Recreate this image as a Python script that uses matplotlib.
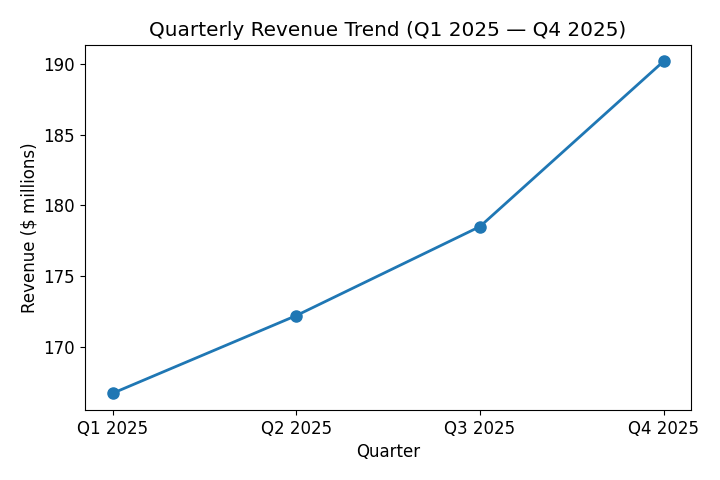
import matplotlib
matplotlib.use("Agg")
import matplotlib.pyplot as plt

quarters = ['Q1 2025', 'Q2 2025', 'Q3 2025', 'Q4 2025']
revenue = [166.7, 172.2, 178.5, 190.2]

fig, ax = plt.subplots(figsize=(7.2, 4.8), dpi=100)
ax.plot(quarters, revenue, marker='o', color='#1f77b4', linewidth=2, markersize=8)

ax.set_title('Quarterly Revenue Trend (Q1 2025 — Q4 2025)', fontsize=14.4)
ax.set_xlabel('Quarter', fontsize=12)
ax.set_ylabel('Revenue ($ millions)', fontsize=12)
ax.tick_params(labelsize=12)

fig.subplots_adjust(left=0.118, right=0.96, top=0.907, bottom=0.146)
plt.savefig("out.png")
